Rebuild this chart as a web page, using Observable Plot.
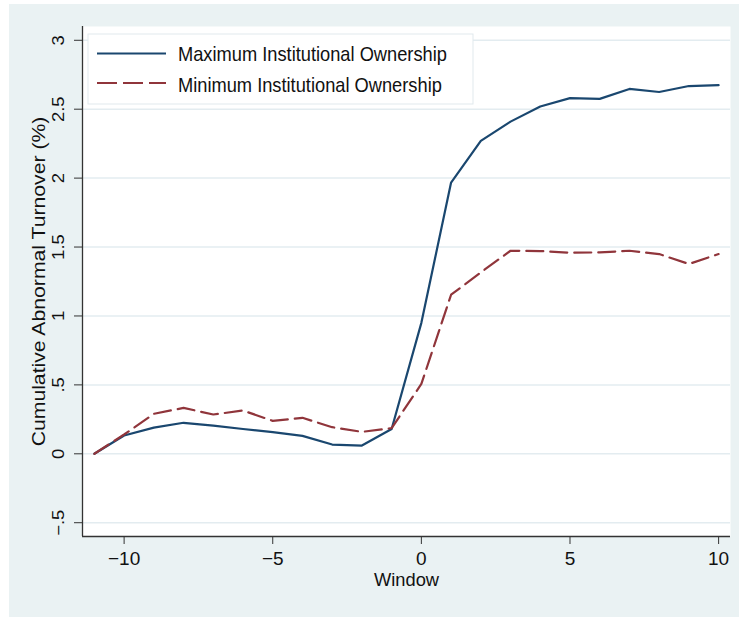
<!DOCTYPE html>
<html>
<head>
<meta charset="utf-8">
<script src="https://cdn.jsdelivr.net/npm/d3@7"></script>
<script src="https://cdn.jsdelivr.net/npm/@observablehq/plot@0.6"></script>
<style>
  html, body { margin: 0; padding: 0; background: #ffffff; }
  #chart { position: absolute; left: 9px; top: 4px; }
</style>
</head>
<body>
<div id="chart"></div>
<script>
// ---- data ----
const windows = [-11, -10, -9, -8, -7, -6, -5, -4, -3, -2, -1, 0, 1, 2, 3, 4, 5, 6, 7, 8, 9, 10];
const maxOwnership = [0, 0.133, 0.19, 0.225, 0.205, 0.18, 0.157, 0.13, 0.067, 0.06, 0.18, 0.95, 1.968, 2.27, 2.41, 2.52, 2.58, 2.575, 2.647, 2.625, 2.668, 2.674];
const minOwnership = [0, 0.14, 0.29, 0.333, 0.285, 0.314, 0.239, 0.261, 0.193, 0.159, 0.186, 0.507, 1.154, 1.316, 1.473, 1.471, 1.459, 1.461, 1.473, 1.449, 1.377, 1.449];
const seriesNames = ["Maximum Institutional Ownership", "Minimum Institutional Ownership"];
const seriesColors = ["#1A476F", "#90353B"];
const xTicks = [-10, -5, 0, 5, 10];
const xTickLabels = ["\u221210", "\u22125", "0", "5", "10"];
const yTicks = [-0.5, 0, 0.5, 1, 1.5, 2, 2.5, 3];
const yTickLabels = ["\u2212.5", "0", ".5", "1", "1.5", "2", "2.5", "3"];
const xDomain = [-11.4, 10.4];
const yDomain = [-0.6, 3.1];
const xTitle = "Window";
const yTitle = "Cumulative Abnormal Turnover (%)";

const maxData = windows.map((w, i) => ({window: w, value: maxOwnership[i], series: seriesNames[0]}));
const minData = windows.map((w, i) => ({window: w, value: minOwnership[i], series: seriesNames[1]}));

const plot = Plot.plot({
  width: 730,
  height: 613,
  marginLeft: 73,
  marginRight: 9,
  marginTop: 22,
  marginBottom: 81,
  style: {background: "#EAF2F3", fontFamily: "'Liberation Sans', Arial, Helvetica, sans-serif", color: "#111111", overflow: "visible"},
  x: {domain: xDomain, label: null},
  y: {domain: yDomain, label: null},
  marks: [
    Plot.frame({fill: "#ffffff", stroke: null}),
    Plot.gridY(yTicks, {stroke: "#E3ECF0", strokeOpacity: 1, strokeWidth: 1.5}),
    Plot.ruleX([xDomain[0]], {stroke: "#333333", strokeWidth: 1.3}),
    Plot.ruleY([yDomain[0]], {stroke: "#333333", strokeWidth: 1.3}),
    Plot.axisX(xTicks, {tickSize: 8, tickPadding: 6.5, tickFormat: (d) => xTickLabels[xTicks.indexOf(d)], fontSize: 19, label: null, stroke: "#333333"}),
    Plot.axisY(yTicks, {tickSize: 8, tickPadding: 15.5, tickRotate: -90, textAnchor: "middle", lineAnchor: "middle", tickFormat: (d) => yTickLabels[yTicks.indexOf(d)], fontSize: 18.5, label: null, stroke: "#333333"}),
    Plot.text([yTitle], {frameAnchor: "left", rotate: -90, dx: -43.7, lineAnchor: "middle", textAnchor: "middle", fontSize: 21.2, fill: "#111111"}),
    Plot.text([xTitle], {frameAnchor: "bottom", dy: 44, lineAnchor: "middle", textAnchor: "middle", fontSize: 18.3, fill: "#111111"}),
    Plot.line(maxData, {x: "window", y: "value", stroke: seriesColors[0], strokeWidth: 2.2}),
    Plot.line(minData, {x: "window", y: "value", stroke: seriesColors[1], strokeWidth: 2.2, strokeDasharray: "17,7"})
  ]
});

// the reference's rotated text is slightly condensed across its glyph height
d3.select(plot).selectAll("text").each(function () {
  const t = this.getAttribute("transform");
  if (t && /rotate\(-90\)/.test(t)) this.setAttribute("transform", t + " scale(1,0.87)");
});

// legend (inside plot region, top-left)
const svg = d3.select(plot);
const lg = svg.append("g").attr("class", "legend");
lg.append("rect").attr("x", 79).attr("y", 30).attr("width", 385).attr("height", 70)
  .attr("fill", "#ffffff").attr("stroke", "#E1E9ED").attr("stroke-width", 1);
const rowsY = [49.5, 79];
const textY = [57, 88];
seriesNames.forEach((name, i) => {
  lg.append("line").attr("x1", 88).attr("x2", 157).attr("y1", rowsY[i]).attr("y2", rowsY[i])
    .attr("stroke", seriesColors[i]).attr("stroke-width", 2.2)
    .attr("stroke-dasharray", i === 1 ? "20,6" : null);
  lg.append("text").attr("transform", `translate(169,${textY[i]}) scale(0.87,1)`).attr("text-anchor", "start")
    .attr("font-size", 21).attr("fill", "#111111").text(name);
});

document.getElementById("chart").appendChild(plot);
</script>
</body>
</html>
